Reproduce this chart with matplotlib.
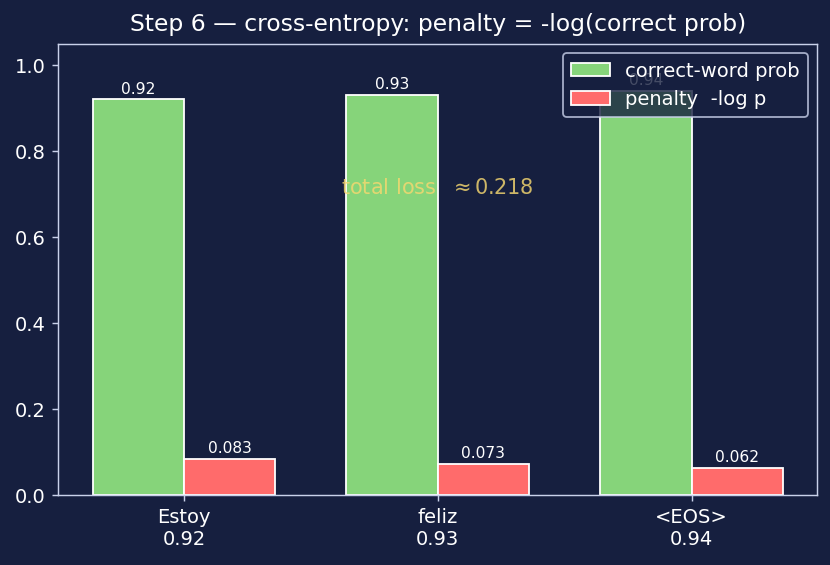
import numpy as np
import matplotlib
matplotlib.use('Agg')
import matplotlib.pyplot as plt

words = ['Estoy', 'feliz', '<EOS>']
probs = [0.92, 0.93, 0.94]
penalty = [0.083, 0.073, 0.062]
total_loss = 0.218

bg = '#161f3f'
fg = '#ffffff'
spine_col = '#c9d1ea'

plt.rcParams['font.family'] = 'DejaVu Sans'

fig = plt.figure(figsize=(6.39, 4.35), dpi=130, facecolor=bg)
ax = fig.add_axes([0.0698, 0.1239, 0.9142, 0.7981], facecolor=bg)

x = np.arange(len(words))
w = 0.36
b1 = ax.bar(x - w / 2, probs, w, color='#86d47a', edgecolor='white', linewidth=1,
            label='correct-word prob', zorder=2)
b2 = ax.bar(x + w / 2, penalty, w, color='#ff6b6b', edgecolor='white', linewidth=1,
            label='penalty  -log p', zorder=2)

for bars, vals, fmt in [(b1, probs, '{:.2f}'), (b2, penalty, '{:.3f}')]:
    for r, v in zip(bars, vals):
        ax.text(r.get_x() + r.get_width() / 2, v + 0.008, fmt.format(v),
                ha='center', va='bottom', fontsize=8.6, color=fg, zorder=3)

ax.text(1, 0.716, f'total loss  $\\approx${total_loss}', ha='center', va='center',
        fontsize=11.6, color='#f6d870', alpha=0.82, zorder=3)

ax.set_xticks(x)
ax.set_xticklabels([f'{wd}\n{p:.2f}' for wd, p in zip(words, probs)])
ax.set_ylim(0, 1.05)
ax.set_title('Step 6 — cross-entropy: penalty = -log(correct prob)', color=fg, fontsize=13, pad=7)
ax.tick_params(colors=spine_col, labelcolor=fg, labelsize=10.8)
for s in ax.spines.values():
    s.set_color(spine_col)

leg = ax.legend(loc='upper right', fontsize=10.8, facecolor=bg, edgecolor=spine_col, labelcolor=fg)

fig.savefig('out.png', dpi=130, facecolor=bg)
